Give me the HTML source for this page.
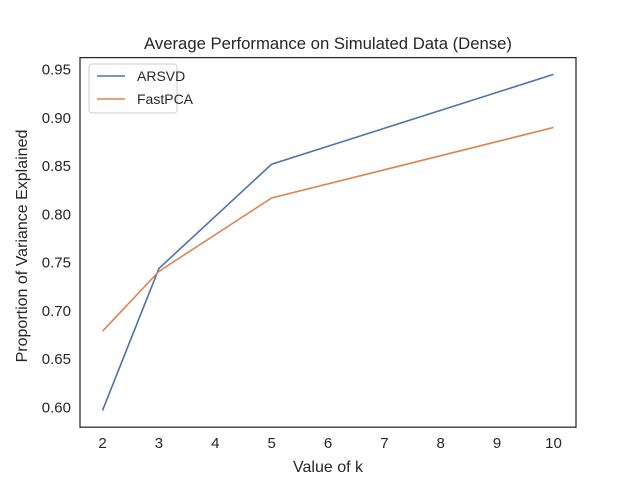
<!DOCTYPE html>
<html><head><meta charset="utf-8"><style>
body{margin:0;background:#fff}
svg text{font-family:"Liberation Sans",Arial,sans-serif;fill:#262626}
</style></head><body>
<svg id="chart" width="640" height="480" xmlns="http://www.w3.org/2000/svg">
<rect width="640" height="480" fill="#fff"/>
<text x="328" y="49" text-anchor="middle" font-size="16.7">Average Performance on Simulated Data (Dense)</text>
<g id="grid"></g>
<g id="series"></g>
<rect x="80" y="57.6" width="496" height="369.6" fill="none" stroke="#262626" stroke-width="1.25"/>
<text x="328" y="472" text-anchor="middle" font-size="16">Value of k</text>
<text transform="translate(27,246) rotate(-90)" text-anchor="middle" font-size="16">Proportion of Variance Explained</text>
<g>
<rect x="89" y="64" width="88" height="49" rx="3" fill="#fff" stroke="#ccc" stroke-width="1"/>
<line x1="97" y1="76" x2="125" y2="76" stroke="#4c72b0" stroke-width="1.6"/>
<text x="137" y="81" font-size="14">ARSVD</text>
<line x1="97" y1="99" x2="125" y2="99" stroke="#dd8452" stroke-width="1.6"/>
<text x="137" y="104" font-size="14">FastPCA</text>
</g>
</svg>
<script>
const kValues=[2,3,5,10];
const arsvd=[0.597,0.744,0.852,0.945];
const fastpca=[0.679,0.741,0.817,0.890];
const xTicks=[2,3,4,5,6,7,8,9,10];
const yTicks=[0.60,0.65,0.70,0.75,0.80,0.85,0.90,0.95];
const L=80,R=576,T=57.6,B=427.2;
const all=arsvd.concat(fastpca);
const ymn=Math.min(...all),ymx=Math.max(...all),ym=(ymx-ymn)*0.05;
const xmn=Math.min(...kValues),xmx=Math.max(...kValues),xm=(xmx-xmn)*0.05;
const sx=v=>L+(v-(xmn-xm))/((xmx+xm)-(xmn-xm))*(R-L);
const sy=v=>B-(v-(ymn-ym))/((ymx+ym)-(ymn-ym))*(B-T);
const NS="http://www.w3.org/2000/svg";
const g=document.getElementById('grid');
xTicks.forEach(t=>{const e=document.createElementNS(NS,'text');
e.setAttribute('x',sx(t));e.setAttribute('y',B+21);e.setAttribute('text-anchor','middle');e.setAttribute('font-size','15');


e.textContent=t;g.appendChild(e);});
yTicks.forEach(t=>{const e=document.createElementNS(NS,'text');
e.setAttribute('x',L-9);e.setAttribute('y',sy(t)+5);e.setAttribute('text-anchor','end');e.setAttribute('font-size','15');


e.textContent=t.toFixed(2);g.appendChild(e);});
const s=document.getElementById('series');
[[arsvd,'#4c72b0','line-arsvd'],[fastpca,'#dd8452','line-fastpca']].forEach(([d,c,n])=>{
const p=document.createElementNS(NS,'polyline');
p.setAttribute('points',d.map((v,i)=>sx(kValues[i])+','+sy(v)).join(' '));
p.setAttribute('fill','none');p.setAttribute('stroke',c);p.setAttribute('stroke-width','1.6');


s.appendChild(p);});
</script>
</body></html>
